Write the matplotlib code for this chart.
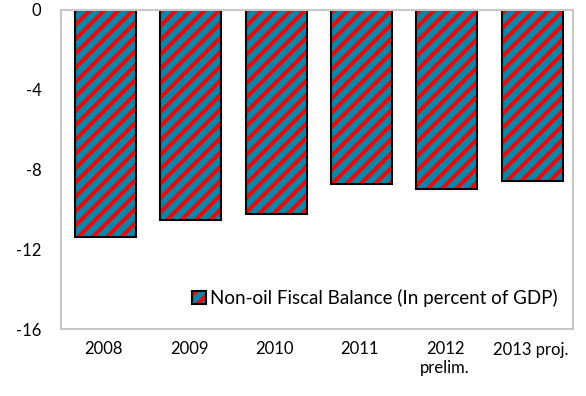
import numpy as np
import matplotlib
matplotlib.use("Agg")
import matplotlib.pyplot as plt

# data
years = ["2008", "2009", "2010", "2011", "2012\nprelim.", "2013 proj."]
balance = [-11.4, -10.55, -10.25, -8.75, -9.0, -8.6]
yticks = [0, -4, -8, -12, -16]

# dpi picked so the hatch spacing comes out like the original
DPI = 86
k = 100.0 / DPI

plt.rcParams['font.family'] = ['Lato', 'DejaVu Sans']
plt.rcParams['hatch.linewidth'] = 3.3

fig = plt.figure(figsize=(586 / DPI, 396 / DPI), dpi=DPI)
ax = fig.add_axes([61/586, 1 - 329/396, (573-61)/586, (329-10)/396])

x = np.arange(len(years))
# hatched fill (hatch takes the edge colour), then black outline on top
fill = ax.bar(x + 0.02, balance, width=0.715, color='#0089AA', edgecolor='#FF0000',
              linewidth=0, hatch='//')
edge = ax.bar(x + 0.02, balance, width=0.715, fill=False, edgecolor='black',
              linewidth=1.5 * k)

ax.set_xlim(-0.5, len(years) - 0.5)
ax.set_ylim(-16, 0)
ax.set_yticks(yticks)
ax.set_yticklabels([str(t) for t in yticks])
ax.set_xticks(x)
ax.set_xticklabels(years)
ax.tick_params(axis='both', length=0, labelsize=12 * k)
ax.tick_params(axis='y', pad=14 * k)
ax.tick_params(axis='x', pad=9 * k)

for s in ax.spines.values():
    s.set_color('#C8C8C8')
    s.set_linewidth(1.5 * k)

leg = ax.legend([(fill[0], edge[0])], ['Non-oil Fiscal Balance (In percent of GDP)'],
                loc='lower right', bbox_to_anchor=(0.985, 0.045), frameon=False,
                fontsize=13.5 * k, handlelength=0.75, handleheight=0.75,
                handletextpad=0.2, borderaxespad=0)

fig.savefig('out.png', dpi=DPI)
